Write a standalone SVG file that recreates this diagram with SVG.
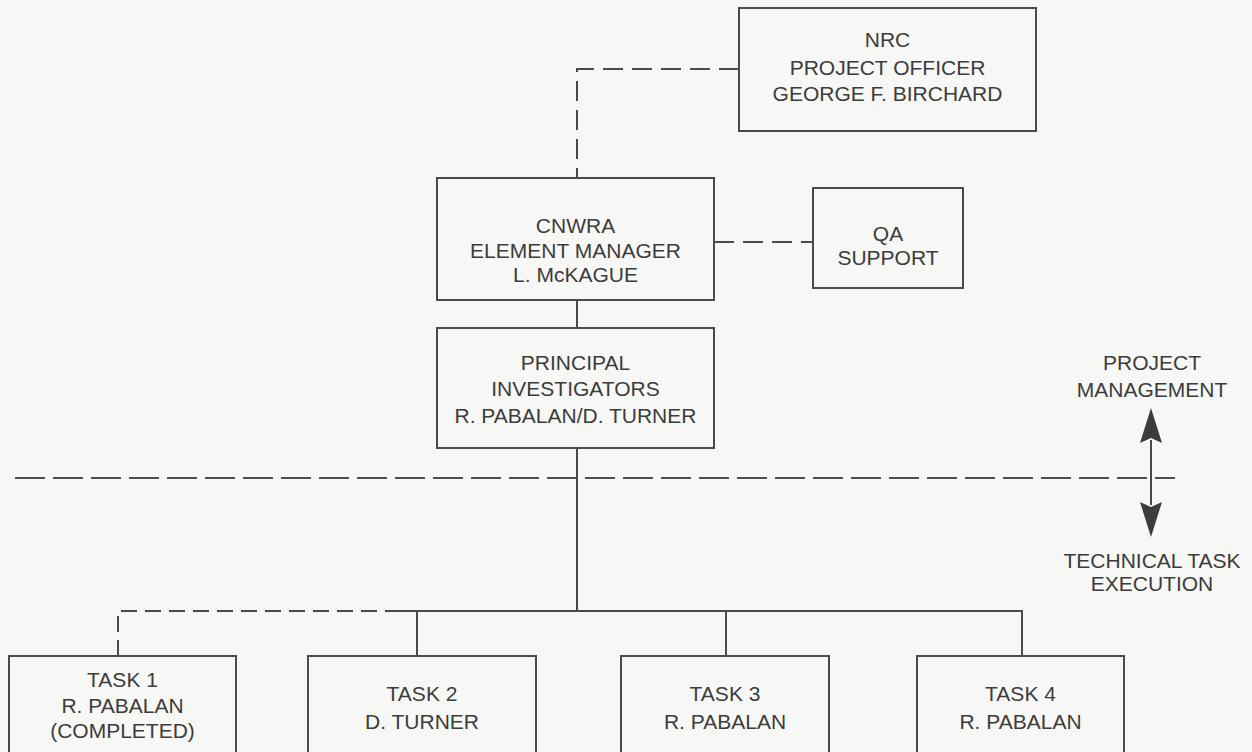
<svg xmlns="http://www.w3.org/2000/svg" width="1252" height="752" viewBox="0 0 1252 752">
<defs>
<style>
.box{fill:none;stroke:#4a4a4a;stroke-width:2}
.t{font-family:"Liberation Sans",Arial,sans-serif;font-size:21px;fill:#3c3c3c;text-anchor:middle}
.solid{fill:none;stroke:#4a4a4a;stroke-width:2}
.dash{fill:none;stroke:#4a4a4a;stroke-width:2;stroke-dasharray:20 9}
.dashs{fill:none;stroke:#4a4a4a;stroke-width:2;stroke-dasharray:16 8}
.dashl{fill:none;stroke:#505050;stroke-width:2;stroke-dasharray:30 8}
.head{fill:#3c3c3c}
</style>
</defs>
<rect width="1252" height="752" fill="#f7f7f5"/>

<g id="connectors">
<path class="dash" d="M739,69 H577 V178"/>
<path class="dash" d="M714,242 H813"/>
<path class="solid" d="M577,300 V328"/>
<path class="solid" d="M577,448 V611"/>
<path class="dashs" d="M118,656 V611 H392"/>
<path class="solid" d="M392,611 H1022 V656"/>
<path class="solid" d="M417,611 V656"/>
<path class="solid" d="M726,611 V656"/>
</g>

<g id="divider">
<path class="dashl" d="M15,478 H1175"/>
<path class="solid" d="M1151,440 V505"/>
<polygon class="head" points="1151,408 1162,443 1151,438 1140,443"/>
<polygon class="head" points="1151,537 1162,502 1151,507 1140,502"/>
<text class="t" x="1152" y="370">PROJECT</text>
<text class="t" x="1152" y="397">MANAGEMENT</text>
<text class="t" x="1152" y="568">TECHNICAL TASK</text>
<text class="t" x="1152" y="591">EXECUTION</text>
</g>

<g id="nrc">
<rect class="box" x="739" y="8" width="297" height="123"/>
<text class="t" x="887.5" y="47">NRC</text>
<text class="t" x="887.5" y="75">PROJECT OFFICER</text>
<text class="t" x="887.5" y="101">GEORGE F. BIRCHARD</text>
</g>

<g id="cnwra">
<rect class="box" x="437" y="178" width="277" height="122"/>
<text class="t" x="575.5" y="233">CNWRA</text>
<text class="t" x="575.5" y="258">ELEMENT MANAGER</text>
<text class="t" x="575.5" y="282">L. McKAGUE</text>
</g>

<g id="qa">
<rect class="box" x="813" y="188" width="150" height="100"/>
<text class="t" x="888" y="241">QA</text>
<text class="t" x="888" y="265">SUPPORT</text>
</g>

<g id="pi">
<rect class="box" x="437" y="328" width="277" height="120"/>
<text class="t" x="575.5" y="370">PRINCIPAL</text>
<text class="t" x="575.5" y="396">INVESTIGATORS</text>
<text class="t" x="575.5" y="423">R. PABALAN/D. TURNER</text>
</g>

<g id="task1">
<rect class="box" x="9" y="656" width="227" height="110"/>
<text class="t" x="122.5" y="687">TASK 1</text>
<text class="t" x="122.5" y="713">R. PABALAN</text>
<text class="t" x="122.5" y="738">(COMPLETED)</text>
</g>

<g id="task2">
<rect class="box" x="308" y="656" width="228" height="110"/>
<text class="t" x="422" y="701">TASK 2</text>
<text class="t" x="422" y="729">D. TURNER</text>
</g>

<g id="task3">
<rect class="box" x="621" y="656" width="208" height="110"/>
<text class="t" x="725" y="701">TASK 3</text>
<text class="t" x="725" y="729">R. PABALAN</text>
</g>

<g id="task4">
<rect class="box" x="917" y="656" width="207" height="110"/>
<text class="t" x="1020.5" y="701">TASK 4</text>
<text class="t" x="1020.5" y="729">R. PABALAN</text>
</g>
</svg>
